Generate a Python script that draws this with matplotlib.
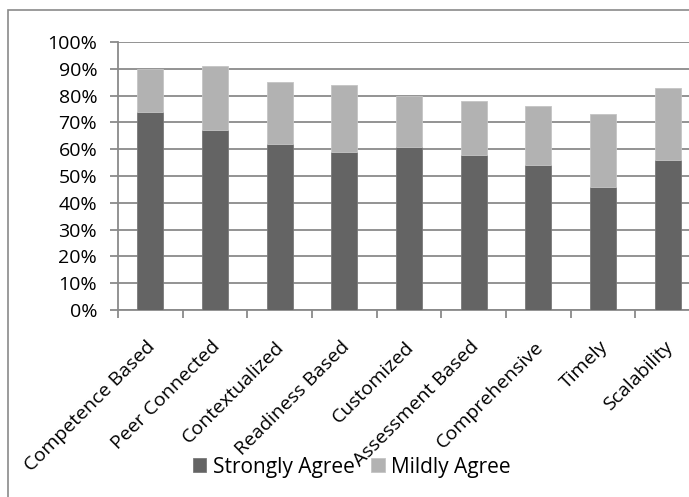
import numpy as np
import matplotlib
matplotlib.use("Agg")
import matplotlib.pyplot as plt
import matplotlib.transforms as mtransforms
from matplotlib.patches import Rectangle

categories = ["Competence Based", "Peer Connected", "Contextualized", "Readiness Based",
              "Customized", "Assessment Based", "Comprehensive", "Timely", "Scalability"]
strongly_agree = [74, 67, 62, 59, 61, 58, 54, 46, 56]
mildly_agree = [16, 24, 23, 25, 19, 20, 22, 27, 27]
yticks = [0, 10, 20, 30, 40, 50, 60, 70, 80, 90, 100]

DARK = "#646464"
LIGHT = "#b2b2b2"
GRID = "#8a8a8a"

plt.rcParams["font.family"] = ["Open Sans", "DejaVu Sans"]

fig = plt.figure(figsize=(6.89, 4.97), dpi=100)
W, H = 689, 497

# outer chart border (cut off on right and bottom)
fig.patches.append(Rectangle((8 / W, -0.05), 1.1, 1 - 10 / H + 0.05,
                             transform=fig.transFigure, fill=False,
                             edgecolor=GRID, linewidth=1.2))

ax = fig.add_axes((118 / W, 1 - 310 / H, 582 / W, 268 / H))
x = np.arange(len(categories))
ax.bar(x, strongly_agree, width=0.4, color=DARK, edgecolor="#7a7a7a", linewidth=0.6,
       label="Strongly Agree", zorder=3)
ax.bar(x, mildly_agree, width=0.4, bottom=strongly_agree, color=LIGHT,
       edgecolor="#c4c4c4", linewidth=0.6, label="Mildly Agree", zorder=3)

ax.set_xlim(-0.5, len(categories) - 0.5)
ax.set_ylim(0, 100)
ax.set_yticks(yticks)
ax.set_yticklabels([f"{v}%" for v in yticks], fontsize=14)
ax.yaxis.grid(True, color=GRID, linewidth=1.3, zorder=0)

for side in ["top", "right"]:
    ax.spines[side].set_visible(False)
for side in ["left", "bottom"]:
    ax.spines[side].set_color(GRID)
    ax.spines[side].set_linewidth(1.3)

ax.tick_params(axis="y", length=6, width=1.3, color=GRID, pad=9)
ax.set_xticks(x)
ax.set_xticklabels(categories, fontsize=14, rotation=45, ha="right", va="center",
                   rotation_mode="anchor")
ax.tick_params(axis="x", which="major", length=0, pad=0)
ax.set_xticks(np.arange(len(categories) + 1) - 0.5, minor=True)
ax.tick_params(axis="x", which="minor", length=6, width=1.3, color=GRID)

offset = mtransforms.ScaledTranslation(2 / 100, -34 / 100, fig.dpi_scale_trans)
for lbl in ax.get_xticklabels():
    lbl.set_transform(lbl.get_transform() + offset)

fig.legend(loc="center left", bbox_to_anchor=(174 / W, 1 - 467 / H), ncol=2, frameon=False,
           fontsize=15, handlelength=0.65, handleheight=0.65, handletextpad=0.3,
           columnspacing=0.8)

fig.savefig("out.png", dpi=100)
